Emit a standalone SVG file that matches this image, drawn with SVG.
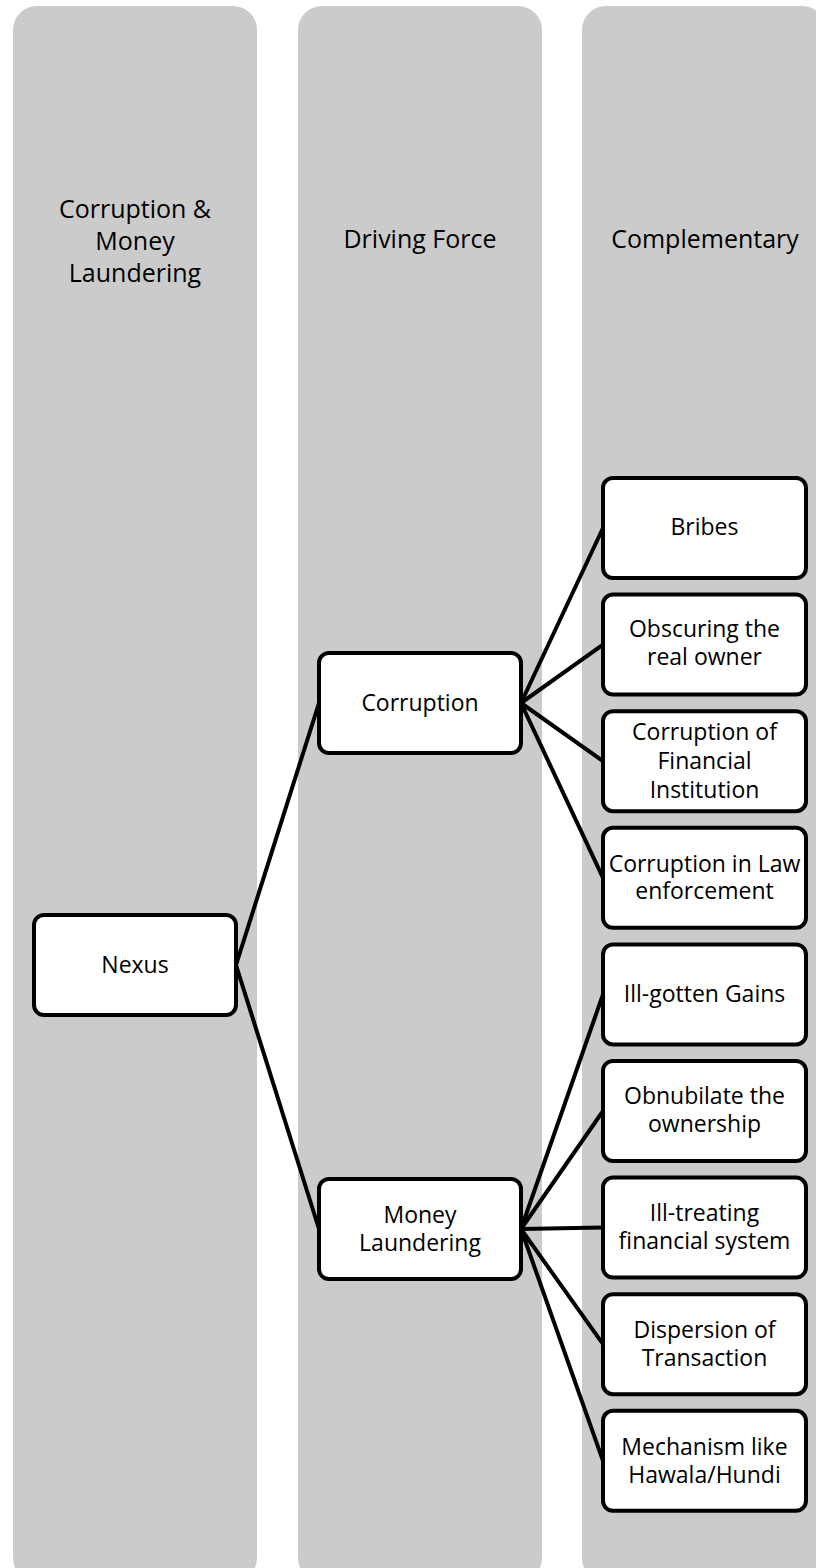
<svg xmlns="http://www.w3.org/2000/svg" width="816" height="1568" viewBox="0 0 816 1568">
<style>
.col{fill:#cbcbcb;}
.box{fill:#ffffff;stroke:#000000;stroke-width:4;}
.hd{font-family:"Open Sans","Liberation Sans",sans-serif;font-size:25px;fill:#000;text-anchor:middle;}
.tx{font-family:"Open Sans","Liberation Sans",sans-serif;font-size:23px;fill:#000;text-anchor:middle;}
.ln{stroke:#000;stroke-width:4;fill:none;stroke-linecap:round;}
</style>
<rect width="816" height="1568" fill="#ffffff"/>
<g id="columns">
<g id="col1"><rect class="col" x="13" y="6" width="244" height="1576" rx="24"/>
<text class="hd" x="135" y="218">Corruption &amp;</text><text class="hd" x="135" y="250">Money</text><text class="hd" x="135" y="282">Laundering</text></g>
<g id="col2"><rect class="col" x="298" y="6" width="244" height="1576" rx="24"/>
<text class="hd" x="420" y="248">Driving Force</text></g>
<g id="col3"><rect class="col" x="582" y="6" width="244" height="1576" rx="24"/>
<text class="hd" x="705" y="248">Complementary</text></g>
</g>
<g id="connectors">
<line class="ln" x1="236" y1="965" x2="319" y2="703"/>
<line class="ln" x1="236" y1="965" x2="319" y2="1229"/>
<line class="ln" x1="521" y1="703" x2="603" y2="528"/>
<line class="ln" x1="521" y1="703" x2="603" y2="644.6"/>
<line class="ln" x1="521" y1="703" x2="603" y2="761.2"/>
<line class="ln" x1="521" y1="703" x2="603" y2="877.8"/>
<line class="ln" x1="521" y1="1229" x2="603" y2="994.4"/>
<line class="ln" x1="521" y1="1229" x2="603" y2="1111"/>
<line class="ln" x1="521" y1="1229" x2="603" y2="1227.6"/>
<line class="ln" x1="521" y1="1229" x2="603" y2="1344.2"/>
<line class="ln" x1="521" y1="1229" x2="603" y2="1460.8"/>
</g>
<g id="nexus"><rect class="box" x="34" y="915" width="202" height="100" rx="10"/><text class="tx" x="135" y="973">Nexus</text></g>
<g id="corruption"><rect class="box" x="319" y="653" width="202" height="100" rx="10"/><text class="tx" x="420" y="711">Corruption</text></g>
<g id="money-laundering"><rect class="box" x="319" y="1179" width="202" height="100" rx="10"/><text class="tx" x="420" y="1223">Money</text><text class="tx" x="420" y="1251">Laundering</text></g>
<g id="bribes"><rect class="box" x="603" y="478" width="203" height="100" rx="10"/><text class="tx" x="704.5" y="535">Bribes</text></g>
<g id="obscuring"><rect class="box" x="603" y="594.6" width="203" height="100" rx="10"/><text class="tx" x="704.5" y="637">Obscuring the</text><text class="tx" x="704.5" y="665">real owner</text></g>
<g id="corruption-fi"><rect class="box" x="603" y="711.2" width="203" height="100" rx="10"/><text class="tx" x="704.5" y="740">Corruption of</text><text class="tx" x="704.5" y="769">Financial</text><text class="tx" x="704.5" y="798">Institution</text></g>
<g id="corruption-law"><rect class="box" x="603" y="827.8" width="203" height="100" rx="10"/><text class="tx" x="704.5" y="872">Corruption in Law</text><text class="tx" x="704.5" y="899">enforcement</text></g>
<g id="ill-gotten"><rect class="box" x="603" y="944.4" width="203" height="100" rx="10"/><text class="tx" x="704.5" y="1002">Ill-gotten Gains</text></g>
<g id="obnubilate"><rect class="box" x="603" y="1061" width="203" height="100" rx="10"/><text class="tx" x="704.5" y="1104">Obnubilate the</text><text class="tx" x="704.5" y="1132">ownership</text></g>
<g id="ill-treating"><rect class="box" x="603" y="1177.6" width="203" height="100" rx="10"/><text class="tx" x="704.5" y="1221">Ill-treating</text><text class="tx" x="704.5" y="1249">financial system</text></g>
<g id="dispersion"><rect class="box" x="603" y="1294.2" width="203" height="100" rx="10"/><text class="tx" x="704.5" y="1338">Dispersion of</text><text class="tx" x="704.5" y="1366">Transaction</text></g>
<g id="mechanism"><rect class="box" x="603" y="1410.8" width="203" height="100" rx="10"/><text class="tx" x="704.5" y="1455">Mechanism like</text><text class="tx" x="704.5" y="1483">Hawala/Hundi</text></g>
</svg>
